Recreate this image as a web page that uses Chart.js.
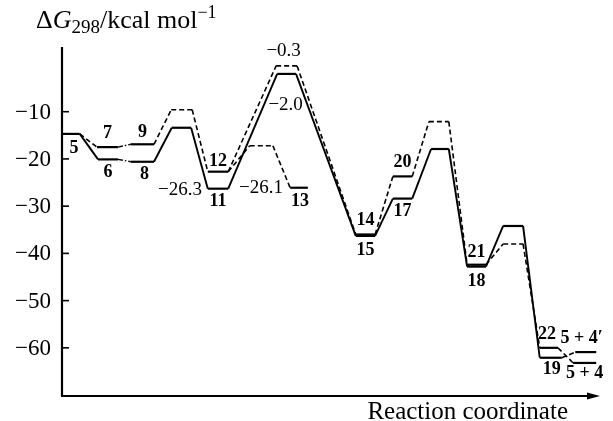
<!DOCTYPE html>
<html><head><meta charset="utf-8">
<script src="https://cdn.jsdelivr.net/npm/chart.js@4"></script>
<style>html,body{margin:0;padding:0;background:#fff}#wrap{width:613px;height:421px;position:relative}</style>
</head><body><div id="wrap"><canvas id="c"></canvas></div>
<script>
// ---- DATA ----
// Energy levels (reaction coordinate 0..100, ΔG298 in kcal/mol)
const levelNames  = ['5','6','7','8','9','TS1s','TS1d','11','12','TS2s','TS2d','TSc','13','15','14','17','20','TS3s','TS3d','18','21','TS4s','TS4d','22','19','P1','P2'];
const levelStart  = [0.0, 6.7, 6.5, 12.8, 12.8, 20.4, 20.3, 27.1, 27.1, 40.0, 39.8, 34.9, 42.4, 54.6, 54.6, 61.5, 61.5, 68.6, 68.2, 75.3, 75.3, 82.0, 82.0, 88.8, 88.8, 95.4, 95.0];
const levelEnd    = [3.3, 10.4, 10.4, 17.1, 17.1, 24.0, 24.2, 30.9, 30.9, 43.5, 43.7, 39.2, 45.7, 58.2, 58.2, 65.1, 65.1, 71.9, 71.9, 78.8, 78.8, 85.7, 85.7, 92.2, 92.9, 99.3, 99.3];
const levelEnergy = [-14.7, -20.1, -17.5, -20.6, -16.9, -13.4, -9.6, -26.3, -22.7, -2.0, -0.3, -17.2, -26.1, -36.3, -36.0, -28.4, -23.7, -17.9, -12.1, -42.8, -42.4, -34.2, -38.0, -60.0, -62.1, -60.9, -63.2];
// Connections between levels (from right end of first to left end of second)
const linkFrom = ['5','5','6','7','8','TS1s','11','TS2s','15','17','TS3s','18','TS4s','9','TS1d','12','TS2d','14','20','TS3d','21','TS4d','12','TSc','22','19'];
const linkTo   = ['6','7','8','9','TS1s','11','TS2s','15','17','TS3s','18','TS4s','19','TS1d','12','TS2d','14','20','TS3d','21','TS4d','22','TSc','13','P2','P1'];
const yTicks = [-10, -20, -30, -40, -50, -60];
const yTitle = ['Δ', 'G', '298', '/kcal mol', '−1'];
const xTitle = 'Reaction coordinate';
// Annotations: text and the level it belongs to
const annText  = ['5','6','7','8','9','11','12','13','−26.3','−26.1','−0.3','−2.0','14','15','20','17','21','18','22','19','5 + 4′','5 + 4'];
const annLevel = ['5','6','7','8','9','11','12','13','11','13','TS2d','TS2s','14','15','20','17','21','18','22','19','P1','P2'];

// ---- STYLE / LAYOUT ----
const dashedLevels = ['TS1d','TS2d','TSc','TS3d','TS4d'];
const dashedLinks = ['5>7','9>TS1d','TS1d>12','12>TS2d','TS2d>14','14>20','20>TS3d','TS3d>21','21>TS4d','TS4d>22','12>TSc','TSc>13','22>P2','19>P1'];
const dashDotLinks = ['6>8','7>9'];
// per-annotation offsets (dx, dy px from level centre), bold flag
const annLayout = [
  [3,14,1],[0,13,1],[0,-14,1],[2,13,1],[0,-12,1],[0,13,1],[0,-10,1],[1,14,1],
  [-38,1,0],[-38,0,0],[-3,-15,0],[-1,31,0],[0,-14,1],[0,14,1],[0,-14,1],[0,13,1],
  [0,-12,1],[0,15,1],[-2,-13,1],[1,12,1],[-4,-14,1],[0,10,1]
];
const SERIF = '"Liberation Serif","DejaVu Serif",serif';

const idx = n => levelNames.indexOf(n);
const datasets = [];
levelNames.forEach((n,i)=>{
  const dashed = dashedLevels.includes(n);
  datasets.push({data:[{x:levelStart[i],y:levelEnergy[i]},{x:levelEnd[i],y:levelEnergy[i]}],
    borderColor:'#000', borderWidth: dashed?1.6:2.2, borderDash: dashed?[5,3]:[]});
});
linkFrom.forEach((f,k)=>{
  const t = linkTo[k], a = idx(f), b = idx(t), key = f+'>'+t;
  let dash = [], w = 1.9;
  if (dashedLinks.includes(key)) { dash=[5,3]; w=1.6; }
  if (dashDotLinks.includes(key)) { dash=[5,2,1.5,2]; w=1.4; }
  datasets.push({data:[{x:levelEnd[a],y:levelEnergy[a]},{x:levelStart[b],y:levelEnergy[b]}],
    borderColor:'#000', borderWidth:w, borderDash:dash});
});

const decor = {
  id:'decor',
  afterDatasetsDraw(chart){
    const {ctx, chartArea:ca, scales:{x, y}} = chart;
    ctx.save();
    ctx.strokeStyle='#000'; ctx.fillStyle='#000';
    // y axis
    ctx.lineWidth=2.2;
    ctx.beginPath(); ctx.moveTo(ca.left, ca.top); ctx.lineTo(ca.left, ca.bottom); ctx.stroke();
    // x axis with arrow
    ctx.beginPath(); ctx.moveTo(ca.left-1, ca.bottom); ctx.lineTo(ca.right-8, ca.bottom); ctx.stroke();
    ctx.beginPath(); ctx.moveTo(ca.right, ca.bottom); ctx.lineTo(ca.right-13, ca.bottom-3.5); ctx.lineTo(ca.right-13, ca.bottom+3.5); ctx.closePath(); ctx.fill();
    // ticks and labels
    ctx.lineWidth=1.6;
    ctx.font='23px '+SERIF; ctx.textAlign='right'; ctx.textBaseline='middle';
    yTicks.forEach(v=>{
      const py = y.getPixelForValue(v);
      ctx.beginPath(); ctx.moveTo(ca.left, py); ctx.lineTo(ca.left+7, py); ctx.stroke();
      ctx.fillText(String(v).replace('-','−'), ca.left-11, py+1);
    });
    // x title
    ctx.textAlign='right'; ctx.textBaseline='alphabetic';
    ctx.font='25px '+SERIF;
    ctx.fillText(xTitle, ca.right-32, 419);
    // y title
    let tx = 36, by = 28;
    ctx.textAlign='left';
    const parts = [[yTitle[0],'26px',0],[yTitle[1],'italic 26px',0],[yTitle[2],'19px',5],[yTitle[3],'26px',0],[yTitle[4],'18px',-10]];
    parts.forEach(([t,f,dy])=>{ ctx.font=f+' '+SERIF; ctx.fillText(t, tx, by+dy); tx += ctx.measureText(t).width; });
    // annotations
    ctx.textAlign='center'; ctx.textBaseline='middle';
    annText.forEach((t,k)=>{
      const i = idx(annLevel[k]);
      const cx = x.getPixelForValue((levelStart[i]+levelEnd[i])/2);
      const cy = y.getPixelForValue(levelEnergy[i]);
      const [dx,dy,b] = annLayout[k];
      ctx.font=(b?'bold 18px ':'19px ')+SERIF;
      ctx.fillText(t, cx+dx, cy+dy);
    });
    ctx.restore();
  }
};

new Chart(document.getElementById('c'), {
  type:'scatter',
  data:{datasets},
  options:{
    responsive:true, maintainAspectRatio:false, animation:false,
    layout:{padding:{left:62, right:13, top:47, bottom:25}},
    elements:{point:{radius:0,hoverRadius:0}, line:{tension:0, borderCapStyle:'butt'}},
    datasets:{scatter:{showLine:true, clip:false}},
    plugins:{legend:{display:false}, tooltip:{enabled:false}},
    scales:{
      x:{type:'linear', min:0, max:100, display:false},
      y:{type:'linear', min:-70.2, max:3.7, display:false}
    }
  },
  plugins:[decor]
});
</script></body></html>
